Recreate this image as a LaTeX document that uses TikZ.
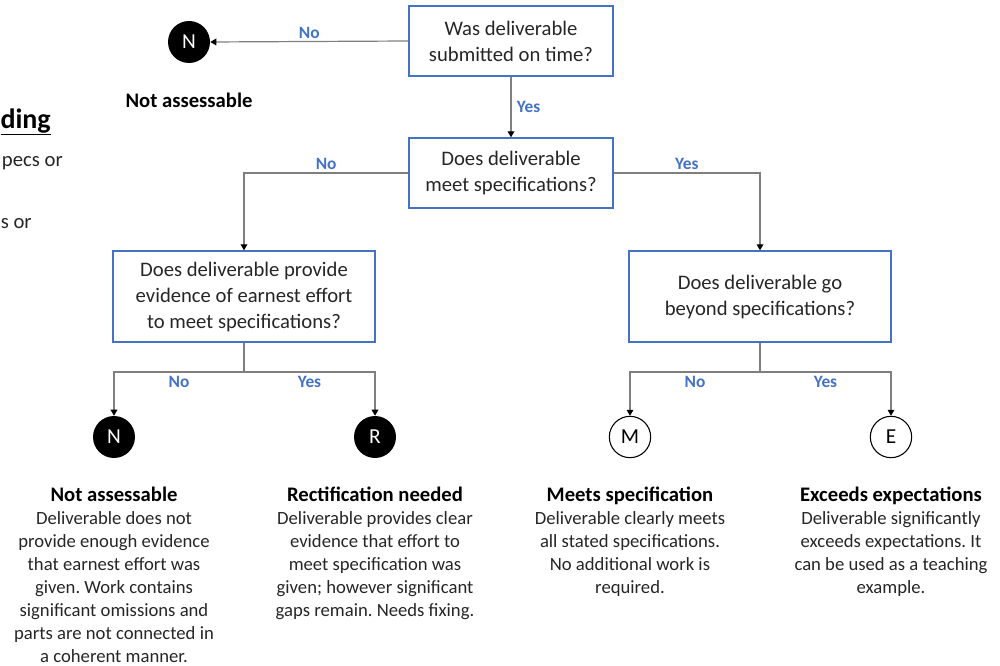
\documentclass[tikz,border=0pt]{standalone}
\usepackage{fontspec}
\setmainfont{Carlito}
\frenchspacing
\usetikzlibrary{arrows.meta}
\definecolor{boxblue}{HTML}{4472C4}
\definecolor{lblblue}{HTML}{4472C4}
\definecolor{linegray}{HTML}{7F7F7F}
\definecolor{txt}{HTML}{262626}
\begin{document}
\begin{tikzpicture}[x=0.75pt,y=-0.75pt,
  qbox/.style={draw=boxblue, line width=1pt, align=center, text=txt,
    font=\fontsize{15.5}{19.5}\selectfont, inner sep=0pt},
  bigbox/.style={qbox, minimum width=196.5pt, minimum height=68.25pt},
  smallbox/.style={qbox, minimum width=153pt, minimum height=52.5pt},
  blackc/.style={circle, fill=black, text=white, minimum size=31.5pt, inner sep=0pt,
    font=\fontsize{16}{16}\selectfont},
  whitec/.style={circle, draw=black, line width=0.8pt, fill=white, text=black, minimum size=31pt,
    inner sep=0pt, font=\fontsize{16}{16}\selectfont},
  conn/.style={draw=linegray, line width=0.9pt, -{Triangle[width=5pt,length=4.5pt,color=black]}},
  plain/.style={draw=linegray, line width=0.9pt},
  lbl/.style={text=lblblue, font=\bfseries\fontsize{13}{13}\selectfont, inner sep=2pt},
  desc/.style={align=center, anchor=north, text=txt, inner sep=0pt,
    font=\fontsize{14}{17.25}\selectfont}
]
\useasboundingbox (0,0) rectangle (1000,666);

% cut-off left text
\node[anchor=east, inner sep=0pt, text=black, font=\bfseries\fontsize{21}{21}\selectfont] (lt1) at (51,122) {\underline{ding}};
\node[anchor=east, inner sep=0pt, text=txt, font=\fontsize{15.5}{15.5}\selectfont] (lt2) at (63,163) {pecs or};
\node[anchor=west, inner sep=0pt, text=txt, font=\fontsize{15.5}{15.5}\selectfont] (lt3) at (0.5,224) {s or};

% question boxes
\node[smallbox] (q1) at (511,41) {Was deliverable\\submitted on time?};
\node[smallbox] (q2) at (511,173) {Does deliverable\\meet specifications?};
\node[bigbox] (q3) at (244,296.5) {Does deliverable provide\\evidence of earnest effort\\to meet specifications?};
\node[bigbox] (q4) at (760,296.5) {Does deliverable go\\beyond specifications?};

% outcome circles
\node[blackc] (n0) at (189,42) {N};
\node[blackc] (n1) at (114,437) {N};
\node[blackc] (r1) at (375,437) {R};
\node[whitec] (m1) at (630,437) {M};
\node[whitec] (e1) at (891,437) {E};

% junctions
\coordinate (j3) at (244,372);
\coordinate (j4) at (760,372);

% connectors
\draw[conn] (q1.west) -- node[lbl, above, pos=0.5]{No} (n0.east);
\draw[conn] (q1.south) -- node[lbl, right, pos=0.5, xshift=2pt]{Yes} (q2.north);
\draw[conn] (q2.west) -| node[lbl, above, pos=0.25]{No} (q3.north);
\draw[conn] (q2.east) -| node[lbl, above, pos=0.25]{Yes} (q4.north);
\draw[plain] (q3.south) -- (j3);
\draw[conn] (j3) -| node[lbl, below, pos=0.25, yshift=-1pt]{No} (n1.north);
\draw[conn] (j3) -| node[lbl, below, pos=0.25, yshift=-1pt]{Yes} (r1.north);
\draw[plain] (q4.south) -- (j4);
\draw[conn] (j4) -| node[lbl, below, pos=0.25, yshift=-1pt]{No} (m1.north);
\draw[conn] (j4) -| node[lbl, below, pos=0.25, yshift=-1pt]{Yes} (e1.north);

% labels
\node[anchor=center, text=black, font=\bfseries\fontsize{15.5}{15.5}\selectfont] (t0) at (189,100) {Not assessable};

\node[desc] (d1) at (114,487) {{\bfseries\fontsize{15.5}{17.25}\selectfont\color{black}Not assessable}\\Deliverable does not\\provide enough evidence\\that earnest effort was\\given. Work contains\\significant omissions and\\parts are not connected in\\a coherent manner.};
\node[desc] (d2) at (375,487) {{\bfseries\fontsize{15.5}{17.25}\selectfont\color{black}Rectification needed}\\Deliverable provides clear\\evidence that effort to\\meet specification was\\given; however significant\\gaps remain. Needs fixing.};
\node[desc] (d3) at (630,487) {{\bfseries\fontsize{15.5}{17.25}\selectfont\color{black}Meets specification}\\Deliverable clearly meets\\all stated specifications.\\No additional work is\\required.};
\node[desc] (d4) at (891,487) {{\bfseries\fontsize{15.5}{17.25}\selectfont\color{black}Exceeds expectations}\\Deliverable significantly\\exceeds expectations. It\\can be used as a teaching\\example.};
\end{tikzpicture}
\end{document}
